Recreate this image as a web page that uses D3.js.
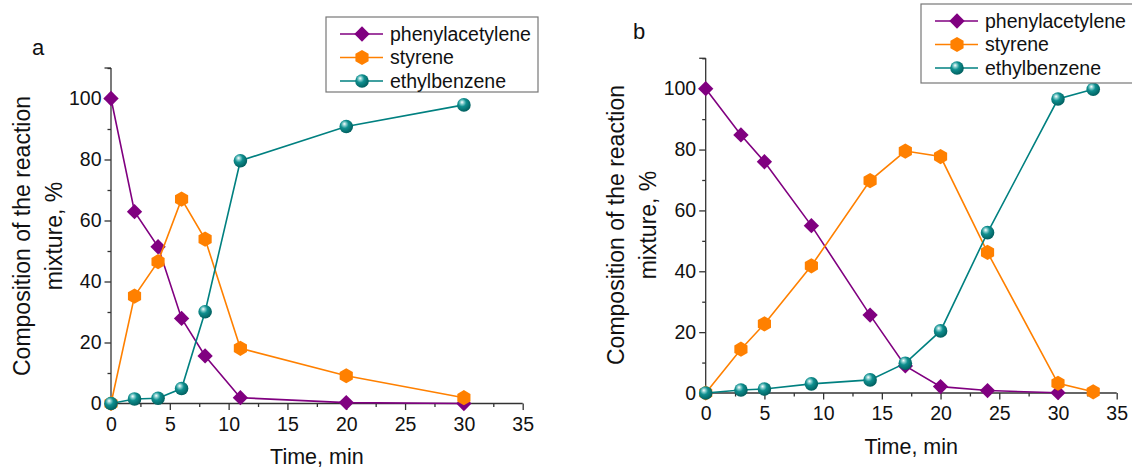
<!DOCTYPE html>
<html>
<head>
<meta charset="utf-8">
<script src="https://cdn.jsdelivr.net/npm/d3@7"></script>
<style>
	body { margin: 0; background: #fff; }
	svg { display: block; font-family: "Liberation Sans", Arial, sans-serif; }
	.axis path, .axis line { stroke: #333; stroke-width: 1.3; }
	.axis text { font-size: 19.5px; fill: #111; }
</style>
</head>
<body>
<div id="chart"></div>
<script>
document.addEventListener("DOMContentLoaded", main);

// series names and colours
var seriesNames = ["phenylacetylene", "styrene", "ethylbenzene"];
var seriesColors = ["#800080", "#ff8000", "#008080"];

// panel a
var timeA = [0, 2, 4, 6, 8, 11, 20, 30];
var phenylA = [100, 62.9, 51.4, 27.9, 15.6, 1.9, 0.3, 0];
var styreneA = [0, 35.2, 46.5, 67, 53.9, 18.1, 9.1, 1.9];
var ethylA = [0, 1.5, 1.7, 4.9, 30.1, 79.6, 90.8, 97.9];

// panel b
var timeB = [0, 3, 5, 9, 14, 17, 20, 24, 30, 33];
var phenylB = [100, 84.8, 76, 55, 25.6, 8.9, 2.1, 0.8, 0.1];
var styreneB = [0, 14.4, 22.7, 41.8, 69.8, 79.5, 77.7, 46.2, 3.2, 0.4];
var ethylB = [0, 1, 1.3, 3, 4.3, 9.8, 20.4, 52.7, 96.6, 99.8];

// axes
var xTicks = [0, 5, 10, 15, 20, 25, 30, 35];
var xMinor = [2.5, 7.5, 12.5, 17.5, 22.5, 27.5, 32.5];
var yTicks = [0, 20, 40, 60, 80, 100];
var yMinor = [10, 30, 50, 70, 90, 110];

var canvas = {};


function addCanvas(cont) {
	canvas.svg = d3.select(cont).append("svg")
		.attr("width", 1132)
		.attr("height", 471);

	var defs = canvas.svg.append("defs");
	var grad = defs.append("radialGradient")
		.attr("id", "ball")
		.attr("cx", "40%").attr("cy", "38%")
		.attr("fx", "36%").attr("fy", "30%")
		.attr("r", "65%");
	grad.append("stop").attr("offset", "0%").attr("stop-color", "#ffffff");
	grad.append("stop").attr("offset", "22%").attr("stop-color", "#7cc9c9");
	grad.append("stop").attr("offset", "45%").attr("stop-color", "#0f8f8f");
	grad.append("stop").attr("offset", "100%").attr("stop-color", "#005c5c");
}


function drawMarker(g, kind, x, y) {
	if (kind == 0) {
		g.append("path")
			.attr("d", d3.symbol(d3.symbolDiamond2, 150)())
			.attr("transform", "translate(" + x + "," + y + ")")
			.attr("fill", seriesColors[0]);
	} else if (kind == 1) {
		var r = 7.6;
		var pts = d3.range(6).map((i) => {
			var a = Math.PI / 3 * i - Math.PI / 2;
			return [x + r * Math.cos(a), y + r * Math.sin(a)];
		});
		g.append("polygon")
			.attr("points", pts.map((p) => p.join(",")).join(" "))
			.attr("fill", seriesColors[1]);
	} else {
		g.append("circle")
			.attr("cx", x).attr("cy", y)
			.attr("r", 6.8)
			.attr("fill", "url(#ball)");
	}
}


function drawPanel(p) {
	var g = canvas.svg.append("g");

	var x = d3.scaleLinear().domain([0, 35]).range([p.x0, p.x1]);
	var y = d3.scaleLinear().domain([0, 100]).range([p.y0, p.y100]);
	var yTop = y(110);

	// minor ticks
	g.append("g")
		.attr("class", "axis")
		.attr("transform", "translate(0," + p.y0 + ")")
		.call(d3.axisBottom(x).tickValues(xMinor).tickSize(3.5).tickFormat(""))
		.select(".domain").remove();
	g.append("g")
		.attr("class", "axis")
		.attr("transform", "translate(" + p.x0 + ",0)")
		.call(d3.axisLeft(y).tickValues(yMinor).tickSize(3.5).tickFormat(""))
		.select(".domain").remove();

	// major ticks
	g.append("g")
		.attr("class", "axis")
		.attr("transform", "translate(0," + p.y0 + ")")
		.call(d3.axisBottom(x).tickValues(xTicks).tickSize(6.5).tickSizeOuter(0).tickPadding(7))
		.select(".domain").attr("d", "M" + p.x0 + ",0H" + p.x1);
	g.append("g")
		.attr("class", "axis")
		.attr("transform", "translate(" + p.x0 + ",0)")
		.call(d3.axisLeft(y).tickValues(yTicks).tickSize(6.5).tickSizeOuter(0).tickPadding(3))
		.select(".domain").attr("d", "M0," + p.y0 + "V" + yTop);
	g.append("line")
		.attr("x1", p.x0 - 6.5).attr("x2", p.x0)
		.attr("y1", yTop).attr("y2", yTop)
		.attr("stroke", "#333").attr("stroke-width", 1.3);

	var line = d3.line()
		.x((d) => x(d[0]))
		.y((d) => y(d[1]));

	// each series: line then its markers, later series on top
	p.series.forEach((vals, k) => {
		var pts = vals.map((v, i) => [p.time[i], v]);
		g.append("path")
			.attr("d", line(pts))
			.attr("fill", "none")
			.attr("stroke", seriesColors[k])
			.attr("stroke-width", 1.6);
		pts.forEach((d) => {
			drawMarker(g, k, x(d[0]), y(d[1]));
		});
	});

	// titles
	g.append("text")
		.attr("x", (p.x0 + p.x1) / 2).attr("y", p.xTitleY)
		.attr("text-anchor", "middle")
		.attr("font-size", 21.5)
		.attr("fill", "#111")
		.text("Time, min");

	var yt = g.append("text")
		.attr("transform", "translate(" + p.yTitleX + "," + p.yTitleY + ") rotate(-90)")
		.attr("text-anchor", "middle")
		.attr("font-size", 23)
		.attr("fill", "#111");
	yt.append("tspan").attr("x", 0).attr("dy", 0).text("Composition of the reaction");
	yt.append("tspan").attr("x", 0).attr("dy", 32).text("mixture, %");

	g.append("text")
		.attr("x", p.labelX).attr("y", p.labelY)
		.attr("font-size", 22)
		.attr("fill", "#111")
		.text(p.label);

	// legend
	var lg = canvas.svg.append("g");
	lg.append("rect")
		.attr("x", p.legX).attr("y", p.legY)
		.attr("width", p.legW).attr("height", p.legH)
		.attr("fill", "#fff")
		.attr("stroke", "#777")
		.attr("stroke-width", 1.2);
	seriesNames.forEach((name, k) => {
		var ry = p.legY + 17 + k * 23.5;
		var mx = p.legX + 36;
		lg.append("line")
			.attr("x1", mx - 22).attr("x2", mx + 21)
			.attr("y1", ry).attr("y2", ry)
			.attr("stroke", seriesColors[k])
			.attr("stroke-width", 1.6);
		drawMarker(lg, k, mx, ry);
		lg.append("text")
			.attr("x", mx + 28).attr("y", ry)
			.attr("dy", "0.35em")
			.attr("font-size", 19.5)
			.attr("fill", "#111")
			.text(name);
	});
}


function main() {
	addCanvas("#chart");

	drawPanel({
		label: "a", labelX: 32, labelY: 55,
		x0: 111, x1: 522.7, y0: 403.5, y100: 98.5,
		time: timeA, series: [phenylA, styreneA, ethylA],
		xTitleY: 464, yTitleX: 30, yTitleY: 236,
		legX: 326, legY: 17, legW: 212, legH: 75
	});

	drawPanel({
		label: "b", labelX: 633, labelY: 39,
		x0: 705.7, x1: 1116.7, y0: 393, y100: 88.7,
		time: timeB, series: [phenylB, styreneB, ethylB],
		xTitleY: 454, yTitleX: 624, yTitleY: 225,
		legX: 921, legY: 4, legW: 220, legH: 79
	});
}
</script>
</body>
</html>
